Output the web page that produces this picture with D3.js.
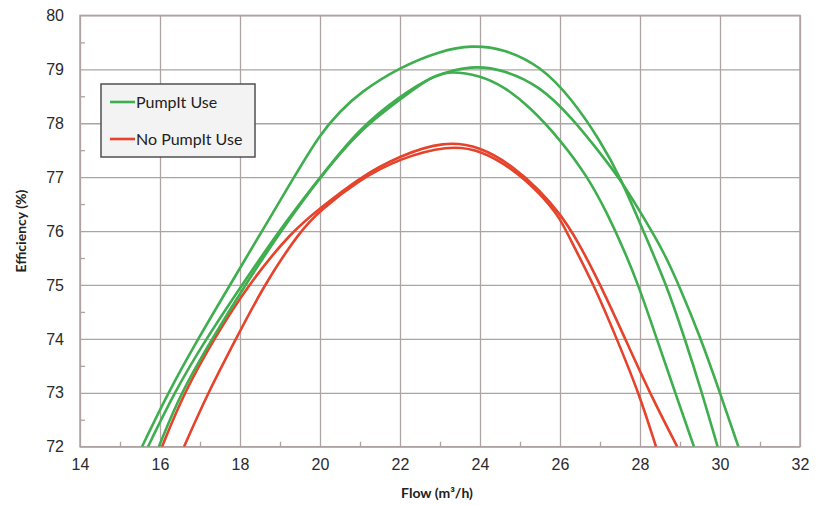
<!DOCTYPE html>
<html>
<head>
<meta charset="utf-8">
<script src="https://cdn.jsdelivr.net/npm/d3@7"></script>
<style>
  body { margin: 0; background: #fff; }
  svg { font-family: Lato, "Open Sans", sans-serif; }
  .grid line { stroke: #aea3a3; stroke-width: 1.3; }
  .grid path { display: none; }
  .tick text { fill: #2a2a2a; font-size: 16px; }
</style>
</head>
<body>
<div id="chart"></div>
<script>
// tick values
var xTicks = [14, 16, 18, 20, 22, 24, 26, 28, 30, 32];
var yTicks = [72, 73, 74, 75, 76, 77, 78, 79, 80];
var xMinor = [15, 17, 19, 21, 23, 25, 27, 29, 31];
var yMinor = [72.5, 73.5, 74.5, 75.5, 76.5, 77.5, 78.5, 79.5];

// legend entries
var legendNames = ["PumpIt Use", "No PumpIt Use"];

// curves: [flow, efficiency]
var pumpit1 = [[15.55,72],[16.2,73],[16.95,74],[17.75,75],[18.55,76],[19.35,77],[20,77.8],[20.5,78.22],[21,78.57],[22,79.04],[23,79.34],[23.8,79.45],[24.6,79.38],[25.5,79.07],[26.3,78.45],[27,77.68],[27.5,77.02],[28.2,75.8],[28.67,74.98],[29.1,74.05],[29.55,73.0],[29.94,72]];
var pumpit2 = [[15.7,72],[16.35,73],[17.15,74],[18.05,75],[18.97,76],[20,77],[21,77.92],[22,78.5],[22.8,78.88],[23.8,79.08],[24.6,78.99],[25.5,78.69],[26.3,78.1],[27,77.45],[27.5,76.97],[28.2,76.12],[28.6,75.6],[29.0,74.95],[29.5,74.05],[30.0,73.0],[30.46,72]];
var pumpit3 = [[15.97,72],[16.52,73],[17.3,74],[18.13,75],[19.02,76],[20,77],[21,77.88],[22,78.44],[22.8,78.88],[23.25,78.97],[24,78.89],[24.6,78.68],[25.25,78.3],[26,77.7],[26.7,77.0],[27.2,76.3],[27.6,75.65],[27.96,75.0],[28.42,74.0],[28.88,73.0],[29.35,72]];
var noPumpit1 = [[16.05,72],[16.6,73],[17.35,74],[18.2,75],[19.3,76],[20,76.42],[21,77.0],[22,77.4],[23.1,77.67],[24,77.57],[24.83,77.2],[25.5,76.75],[26,76.32],[26.42,75.85],[27.0,75.02],[27.6,74.05],[28.24,73.0],[28.93,72]];
var noPumpit2 = [[16.6,72],[17.2,73],[17.9,74],[18.6,75],[19.5,76],[20,76.38],[21,76.96],[22,77.35],[23.2,77.59],[24,77.51],[24.83,77.15],[25.5,76.7],[26,76.25],[26.25,75.85],[26.85,75.0],[27.42,74.0],[27.97,73.0],[28.4,72]];

var green = "#3fae4f";
var red = "#e5432b";

var svgWidth = 822;
var svgHeight = 505;

// plot area edges
var plot = {left: 80, right: 800, top: 15.4, bottom: 446.7};

var svg = d3.select("#chart")
    .append("svg")
    .attr("width", svgWidth)
    .attr("height", svgHeight);

var x = d3.scaleLinear().domain([14, 32]).range([plot.left, plot.right]);
var y = d3.scaleLinear().domain([72, 80]).range([plot.bottom, plot.top]);
var plotW = plot.right - plot.left;
var plotH = plot.bottom - plot.top;

// vertical gridlines + x labels
svg.append("g")
    .attr("class", "grid")
    .attr("transform", `translate(0,${plot.bottom})`)
    .call(d3.axisBottom(x).tickValues(xTicks).tickSize(-plotH).tickPadding(12).tickFormat(d3.format("d")));

// horizontal gridlines + y labels
svg.append("g")
    .attr("class", "grid")
    .attr("transform", `translate(${plot.left},0)`)
    .call(d3.axisLeft(y).tickValues(yTicks).tickSize(-plotW).tickPadding(16).tickFormat(d3.format("d")));

// minor ticks
svg.append("g")
    .attr("class", "grid")
    .attr("transform", `translate(0,${plot.bottom})`)
    .call(d3.axisBottom(x).tickValues(xMinor).tickSize(-5).tickFormat(""));
svg.append("g")
    .attr("class", "grid")
    .attr("transform", `translate(${plot.left},0)`)
    .call(d3.axisLeft(y).tickValues(yMinor).tickSize(-5).tickFormat(""));

// frame
svg.append("rect")
    .attr("x", plot.left).attr("y", plot.top)
    .attr("width", plotW).attr("height", plotH)
    .attr("fill", "none")
    .attr("stroke", "#aea3a3")
    .attr("stroke-width", 1.5);

svg.append("clipPath").attr("id", "plotclip")
    .append("rect")
    .attr("x", plot.left).attr("y", plot.top)
    .attr("width", plotW).attr("height", plotH);

// smoothed like the spreadsheet curves
var line = d3.line()
    .x(d => x(d[0]))
    .y(d => y(d[1]))
    .curve(d3.curveBasis);

var curves = [
    {pts: noPumpit1, color: red},
    {pts: noPumpit2, color: red},
    {pts: pumpit1, color: green},
    {pts: pumpit2, color: green},
    {pts: pumpit3, color: green}
];

svg.append("g")
    .attr("clip-path", "url(#plotclip)")
    .selectAll("path")
    .data(curves)
    .enter()
    .append("path")
    .attr("d", d => line(d.pts))
    .attr("fill", "none")
    .attr("stroke", d => d.color)
    .attr("stroke-width", 2.6);

// legend
var legend = svg.append("g");
legend.append("rect")
    .attr("x", 101).attr("y", 84)
    .attr("width", 154).attr("height", 73)
    .attr("fill", "#f3f3f3")
    .attr("stroke", "#505050")
    .attr("stroke-width", 1.5);

legendNames.forEach(function(name, i) {
    var ly = 102 + i * 37;
    legend.append("line")
        .attr("x1", 110).attr("x2", 135)
        .attr("y1", ly).attr("y2", ly)
        .attr("stroke", i === 0 ? green : red)
        .attr("stroke-width", 2.6);
    legend.append("text")
        .attr("x", 136).attr("y", ly + 6)
        .attr("font-size", "16px")
        .attr("fill", "#222")
        .text(name);
});

// axis titles
svg.append("text")
    .attr("x", 437).attr("y", 498)
    .attr("text-anchor", "middle")
    .attr("font-size", "14px")
    .attr("font-weight", "bold")
    .attr("fill", "#222")
    .text("Flow (m³/h)");

svg.append("text")
    .attr("transform", "translate(26,231) rotate(-90)")
    .attr("text-anchor", "middle")
    .attr("font-size", "14px")
    .attr("font-weight", "bold")
    .attr("fill", "#222")
    .text("Efficiency (%)");
</script>
</body>
</html>
